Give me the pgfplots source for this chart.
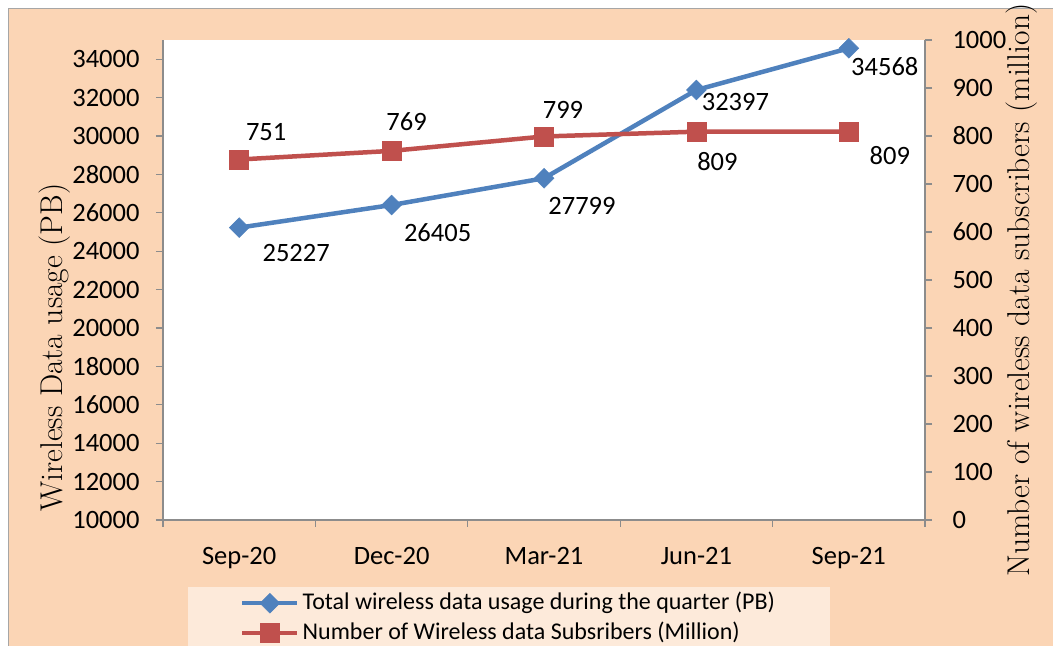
\documentclass[border=0pt]{standalone}
\usepackage{pgfplots}
\usepackage{pgfplotstable}
\pgfplotsset{compat=1.18}
\usetikzlibrary{backgrounds,calc}
\usepackage{fontspec}
\setmainfont{Carlito}
\newfontfamily\titlefont{Latin Modern Roman}
\definecolor{peach}{HTML}{FBD5B5}
\definecolor{legendbg}{HTML}{FDEADA}
\definecolor{bordergray}{HTML}{A6A6A6}
\definecolor{axisgray}{HTML}{8C8C8C}
\definecolor{sblue}{HTML}{4F81BD}
\definecolor{sred}{HTML}{C0504D}

\pgfplotstableread{
x y
0 25227
1 26405
2 27799
3 32397
4 34568
}\usagetab
\pgfplotstableread{
x y
0 751
1 769
2 799
3 809
4 809
}\substab

\pgfplotsset{
  common/.style={
    scale only axis, width=762bp, height=480bp,
    xmin=-0.5, xmax=4.5,
    tick align=outside,
    major tick length=7bp, minor tick length=7bp,
    axis line style={draw=axisgray, line width=1.2bp, -},
    every tick/.style={draw=axisgray, line width=1.2bp},
    tick label style={font=\fontsize{26.5bp}{31bp}\selectfont},
    /pgf/number format/assume math mode=true,
    /pgf/number format/1000 sep={},
    scaled y ticks=false,
    clip=false,
    legend image code/.code={\draw[mark repeat=2,mark phase=2,##1] plot coordinates {(0bp,0bp) (27.5bp,0bp) (55bp,0bp)};},
  },
  labelat/.style 2 args={
    draw=none, mark=none, forget plot,
    nodes near coords,
    every node near coord/.append style={anchor=center, xshift=#1bp, yshift=#2bp, font=\fontsize{26.5bp}{31bp}\selectfont, text=black},
  },
  bluestyle/.style={sblue, line width=4.5bp, mark=square*, mark size=7bp, mark options={rotate=45, solid, line width=0.5bp, fill=sblue}},
  redstyle/.style={sred, line width=4.5bp, mark=square*, mark size=9.5bp, mark options={solid, line width=0.5bp, fill=sred}},
}

\begin{document}
\begin{tikzpicture}[x=1bp,y=1bp]

\begin{axis}[common,
  axis x line*=bottom, axis y line*=left,
  axis background/.style={fill=white},
  ymin=10000, ymax=35000, ytick={10000,12000,...,34000},
  xtick={0,1,2,3,4}, xticklabels={Sep-20,Dec-20,Mar-21,Jun-21,Sep-21},
  major x tick style={draw=none},
  minor xtick={-0.5,0.5,1.5,2.5,3.5,4.5},
  xticklabel style={yshift=-17bp},
  yticklabel style={xshift=-13bp},
  ylabel={Wireless Data usage (PB)},
  ylabel style={at={(axis description cs:-0.1417,0.359)}, anchor=center, font=\titlefont\fontsize{31.5bp}{36bp}\selectfont},
]
\coordinate (SW) at (rel axis cs:0,0);
\addplot[bluestyle] table[x=x,y=y] {\usagetab};
\addplot[labelat={57}{-25}] coordinates {(0,25227)};
\addplot[labelat={46}{-28}] coordinates {(1,26405)};
\addplot[labelat={38}{-28}] coordinates {(2,27799)};
\addplot[labelat={39}{-12}] coordinates {(3,32397)};
\addplot[labelat={36}{-18}] coordinates {(4,34568)};
\end{axis}

\begin{axis}[common,
  axis x line=none, axis y line*=right,
  ymin=0, ymax=1000, ytick={0,100,...,1000},
  yticklabel style={xshift=17bp},
  ylabel={Number of wireless data subscribers (million)},
  ylabel style={at={(axis description cs:1.1273,-0.125)}, anchor=west, font=\titlefont\fontsize{31.5bp}{36bp}\selectfont},
  legend style={at={(axis description cs:0.0328,-0.1396)}, anchor=north west, fill=legendbg, draw=none, inner xsep=52bp, inner ysep=1bp, row sep=0bp, font=\fontsize{24bp}{28bp}\selectfont, nodes={inner xsep=3bp, inner ysep=3bp, text height=18bp, text depth=6bp}, cells={anchor=west}},
  legend cell align=left,
]
\addlegendimage{bluestyle}
\addlegendentry{Total wireless data usage during the quarter (PB)}
\addplot[redstyle] table[x=x,y=y] {\substab};
\addlegendentry{Number of Wireless data Subsribers (Million)}
\addplot[labelat={27}{27}] coordinates {(0,751)};
\addplot[labelat={15}{29}] coordinates {(1,769)};
\addplot[labelat={19}{27}] coordinates {(2,799)};
\addplot[labelat={21}{-30}] coordinates {(3,809)};
\addplot[labelat={41}{-24}] coordinates {(4,809)};
\end{axis}

\begin{scope}[on background layer]
\fill[white] ($(SW)+(-163,-126)$) rectangle ($(SW)+(890,520)$);
\filldraw[fill=peach, draw=bordergray, line width=1bp] ($(SW)+(-154,-136)$) rectangle ($(SW)+(907,511.7)$);
\end{scope}

\pgfresetboundingbox
\useasboundingbox ($(SW)+(-163,-126)$) rectangle ($(SW)+(890,520)$);
\end{tikzpicture}
\end{document}
